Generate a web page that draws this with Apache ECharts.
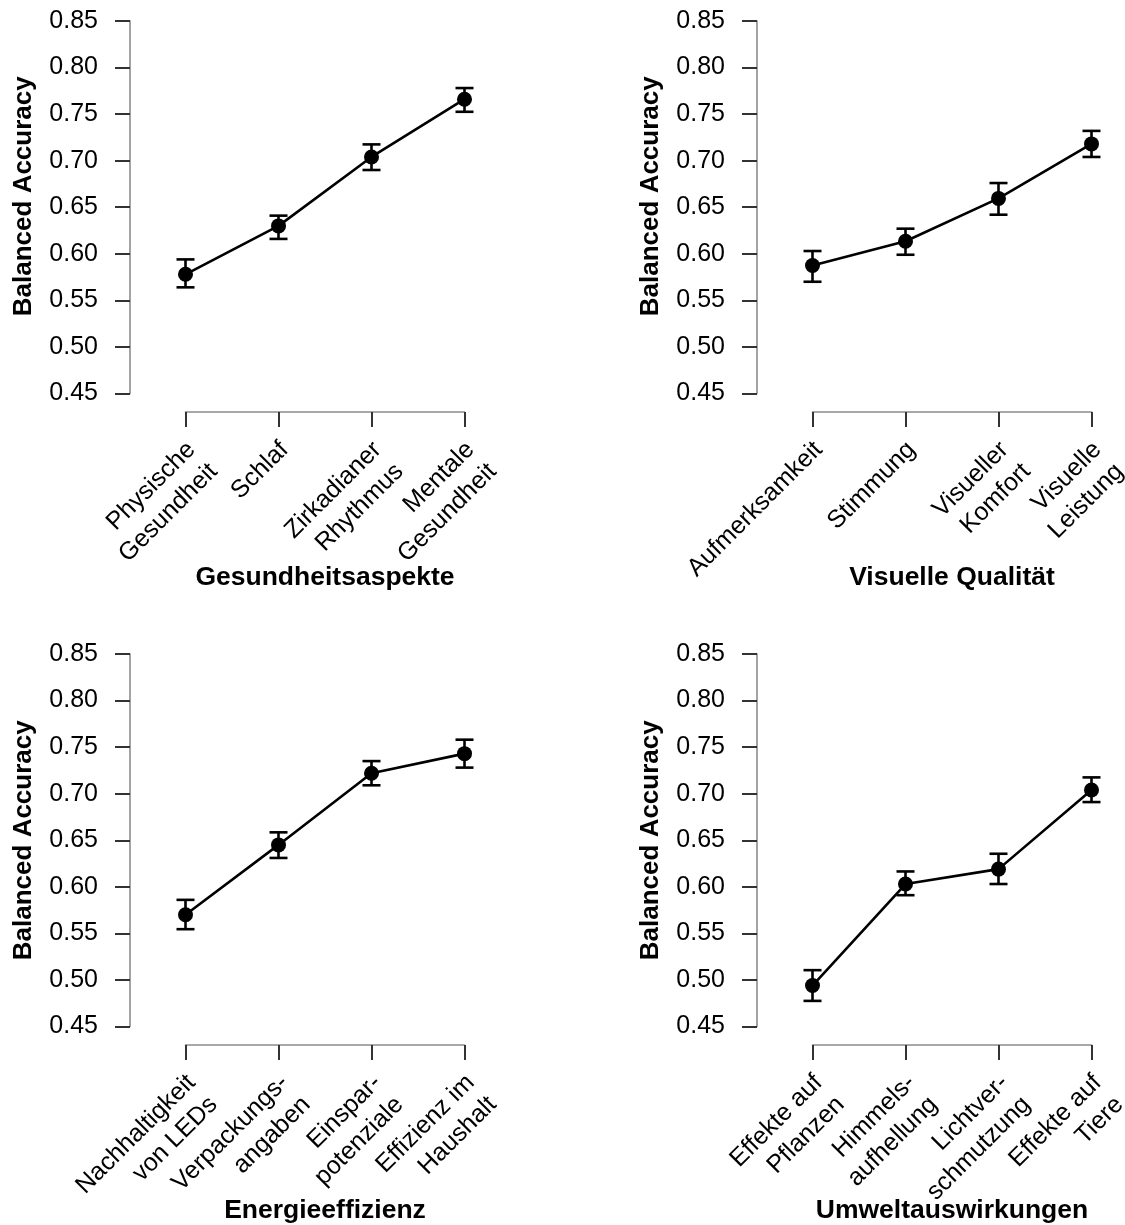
<!DOCTYPE html>
<html>
<head>
<meta charset="utf-8">
<script src="https://cdn.jsdelivr.net/npm/echarts@6/dist/echarts.min.js"></script>
<style>
  html, body { margin: 0; padding: 0; background: #fff; }
  #chart { width: 1125px; height: 1225px; }
</style>
</head>
<body>
<div id="chart"></div>
<script>
// y-axis ticks shared by all four panels
const yTicks = [0.45, 0.50, 0.55, 0.60, 0.65, 0.70, 0.75, 0.80, 0.85];

// Gesundheitsaspekte
const cats1 = ['Physische\nGesundheit', 'Schlaf', 'Zirkadianer\nRhythmus', 'Mentale\nGesundheit'];
const mean1 = [0.578, 0.630, 0.704, 0.766];
const low1 = [0.564, 0.616, 0.690, 0.7525];
const high1 = [0.594, 0.641, 0.7175, 0.778];

// Visuelle Qualität
const cats2 = ['Aufmerksamkeit', 'Stimmung', 'Visueller\nKomfort', 'Visuelle\nLeistung'];
const mean2 = [0.5875, 0.6135, 0.6595, 0.718];
const low2 = [0.570, 0.599, 0.642, 0.704];
const high2 = [0.603, 0.627, 0.676, 0.732];

// Energieeffizienz
const cats3 = ['Nachhaltigkeit\nvon LEDs', 'Verpackungs-\nangaben', 'Einspar-\npotenziale', 'Effizienz im\nHaushalt'];
const mean3 = [0.570, 0.645, 0.722, 0.743];
const low3 = [0.5545, 0.631, 0.709, 0.728];
const high3 = [0.586, 0.6585, 0.735, 0.758];

// Umweltauswirkungen
const cats4 = ['Effekte auf\nPflanzen', 'Himmels-\naufhellung', 'Lichtver-\nschmutzung', 'Effekte auf\nTiere'];
const mean4 = [0.494, 0.603, 0.619, 0.704];
const low4 = [0.4775, 0.591, 0.603, 0.691];
const high4 = [0.5105, 0.6165, 0.6355, 0.7175];

const panels = [
  { title: 'Gesundheitsaspekte', cats: cats1, mean: mean1, low: low1, high: high1 },
  { title: 'Visuelle Qualität', cats: cats2, mean: mean2, low: low2, high: high2 },
  { title: 'Energieeffizienz', cats: cats3, mean: mean3, low: low3, high: high3 },
  { title: 'Umweltauswirkungen', cats: cats4, mean: mean4, low: low4, high: high4 }
];

// grid boxes (left, top) of each panel
const gridPos = [
  { left: 185.5, top: 21, shift: 22 },
  { left: 812.5, top: 21, shift: 22 },
  { left: 185.5, top: 654, shift: 0 },
  { left: 812.5, top: 654, shift: 0 }
];

const FONT = "'Liberation Sans', Arial, Helvetica, sans-serif";
const AXIS_GREY = '#8c8c8c';
const TICK_DARK = '#333';

const chart = echarts.init(document.getElementById('chart'));

const grid = [], xAxis = [], yAxis = [], series = [];

panels.forEach((p, i) => {
  grid.push({
    left: gridPos[i].left,
    top: gridPos[i].top,
    width: 279,
    height: 372.5,
    containLabel: false,
    outerBoundsMode: 'none'
  });

  xAxis.push({
    gridIndex: i,
    type: 'category',
    boundaryGap: false,
    data: p.cats,
    offset: 18.5,
    axisLine: { show: true, lineStyle: { color: AXIS_GREY, width: 1.6 } },
    axisTick: { show: true, length: 15, alignWithLabel: true, lineStyle: { color: TICK_DARK, width: 2 } },
    axisLabel: {
      interval: 0,
      rotate: 45,
      align: 'right',
      verticalAlign: 'top',
      margin: 18,
      padding: [0, 7, 0, 0],
      hideOverlap: false,
      fontFamily: FONT,
      fontSize: 25,
      lineHeight: 31,
      color: '#000'
    },
    splitLine: { show: false },
    name: p.title,
    nameLocation: 'middle',
    nameGap: 152,
    nameMoveOverlap: false,
    nameTextStyle: { fontFamily: FONT, fontSize: 26.5, fontWeight: 'bold', color: '#000' }
  });

  yAxis.push({
    gridIndex: i,
    type: 'value',
    min: yTicks[0],
    max: yTicks[yTicks.length - 1],
    interval: 0.05,
    offset: 55.5,
    axisLine: { show: true, lineStyle: { color: AXIS_GREY, width: 1.6 } },
    axisTick: { show: true, length: 15, lineStyle: { color: TICK_DARK, width: 2 } },
    axisLabel: {
      margin: 32,
      fontFamily: FONT,
      fontSize: 25,
      color: '#000',
      formatter: v => v.toFixed(2)
    },
    splitLine: { show: false },
    name: 'Balanced Accuracy',
    nameLocation: 'middle',
    nameGap: 93,
    nameMoveOverlap: false,
    nameTextStyle: {
      fontFamily: FONT, fontSize: 26, fontWeight: 'bold', color: '#000',
      padding: [0, 0, 0, gridPos[i].shift]
    }
  });

  // error bars with caps
  series.push({
    type: 'custom',
    xAxisIndex: i,
    yAxisIndex: i,
    z: 2,
    data: p.cats.map((c, k) => [k, p.low[k], p.high[k]]),
    renderItem: (params, api) => {
      const top = api.coord([api.value(0), api.value(2)]);
      const bot = api.coord([api.value(0), api.value(1)]);
      const half = 9;
      const style = { stroke: '#000', lineWidth: 2.6 };
      return {
        type: 'group',
        children: [
          { type: 'line', shape: { x1: top[0], y1: top[1], x2: bot[0], y2: bot[1] }, style },
          { type: 'line', shape: { x1: top[0] - half, y1: top[1], x2: top[0] + half, y2: top[1] }, style },
          { type: 'line', shape: { x1: bot[0] - half, y1: bot[1], x2: bot[0] + half, y2: bot[1] }, style }
        ]
      };
    }
  });

  series.push({
    type: 'line',
    xAxisIndex: i,
    yAxisIndex: i,
    z: 3,
    data: p.mean,
    symbol: 'circle',
    symbolSize: 15,
    itemStyle: { color: '#000' },
    lineStyle: { color: '#000', width: 2.6 },
    animation: false
  });
});

chart.setOption({
  animation: false,
  backgroundColor: '#fff',
  textStyle: { fontFamily: FONT },
  grid,
  xAxis,
  yAxis,
  series
});
</script>
</body>
</html>
